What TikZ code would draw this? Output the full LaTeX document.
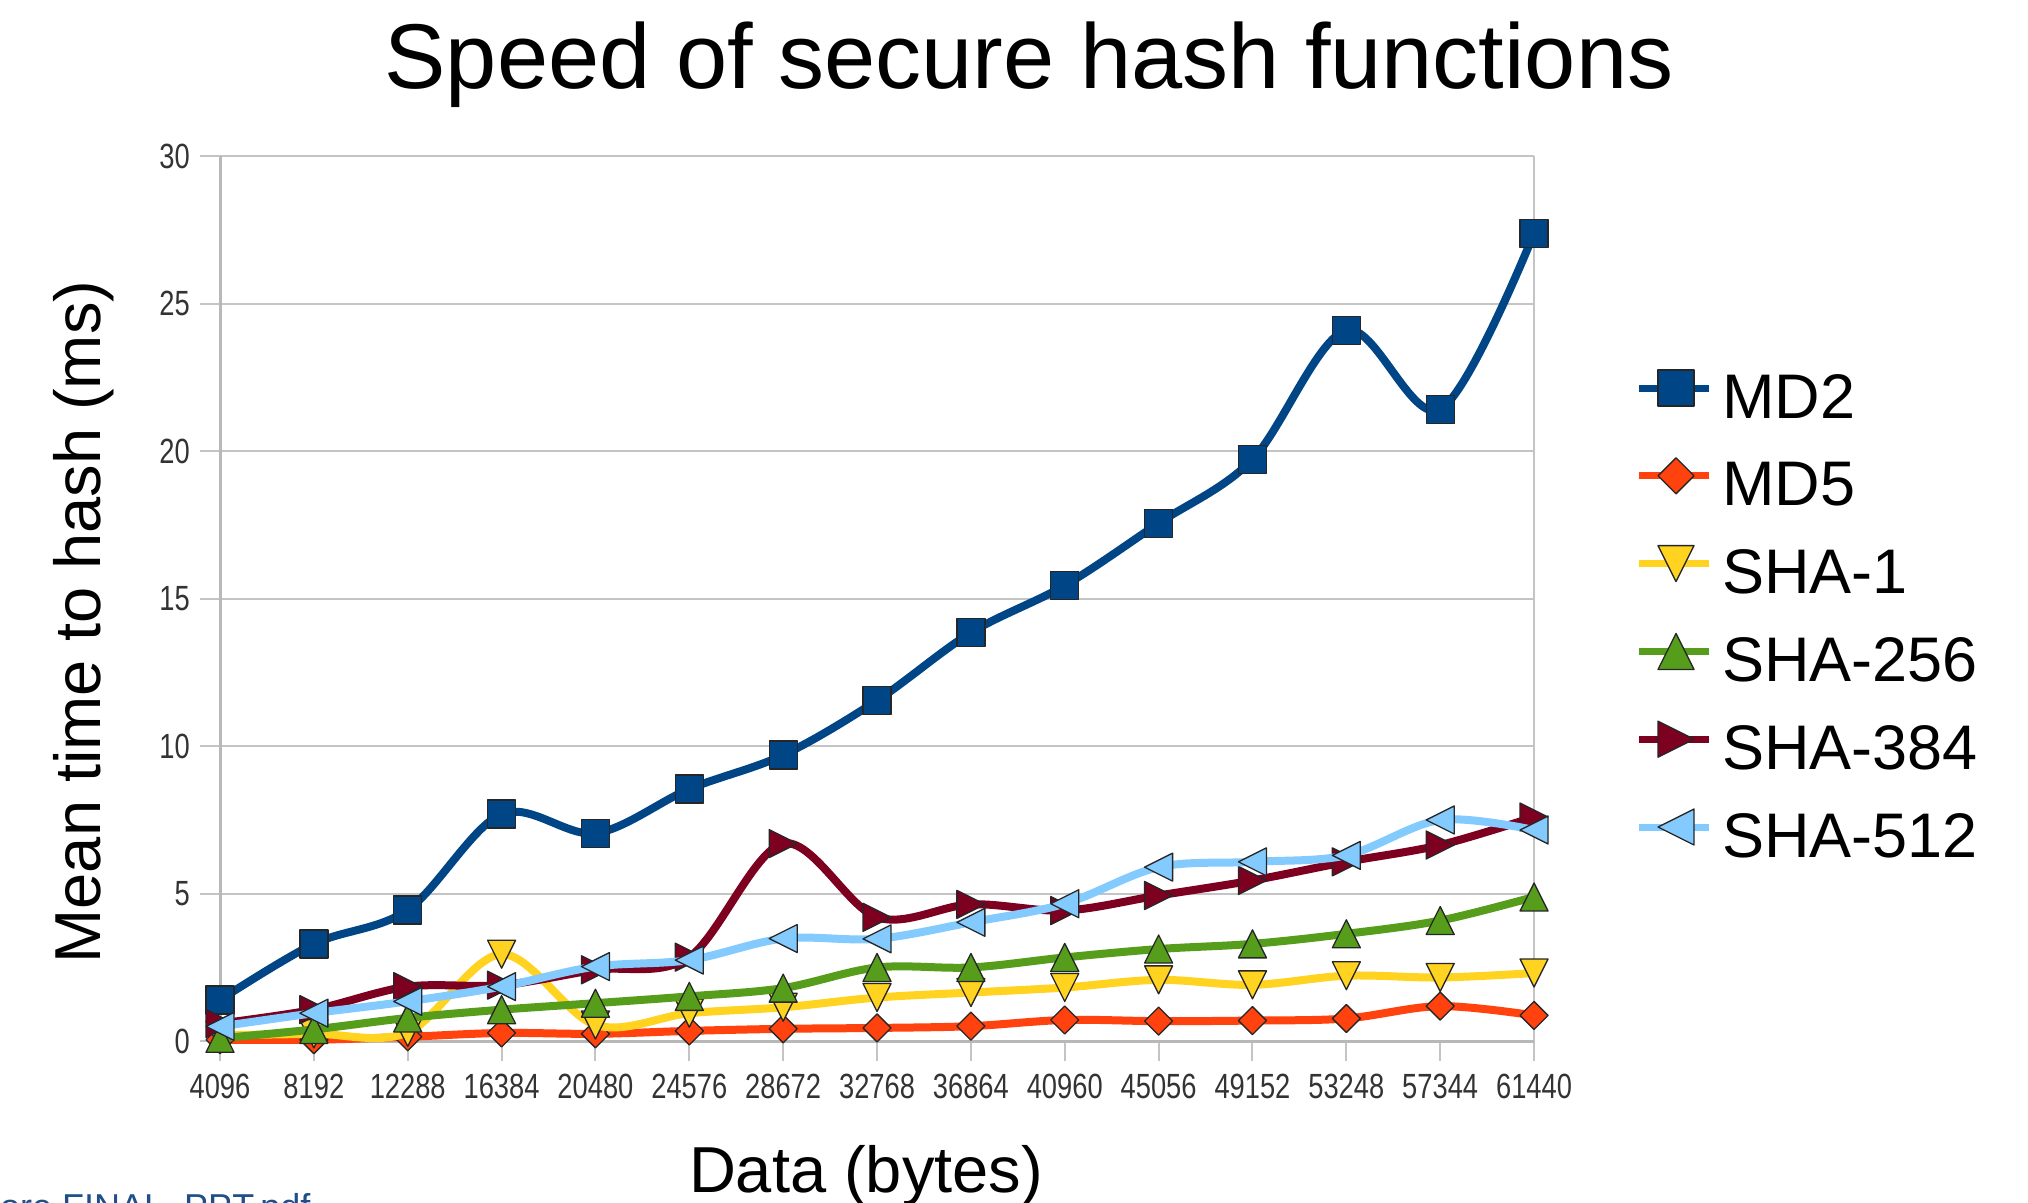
\documentclass[tikz,border=0pt]{standalone}
\usepackage{fontspec}
\setmainfont{Liberation Sans}
\usetikzlibrary{calc}

\definecolor{cMDtwo}{HTML}{004586}
\definecolor{cMDfive}{HTML}{FF420E}
\definecolor{cSHAone}{HTML}{FFD320}
\definecolor{cSHAtwo}{HTML}{579D1C}
\definecolor{cSHAthree}{HTML}{7E0021}
\definecolor{cSHAfive}{HTML}{83CAFF}
\definecolor{gridgray}{HTML}{C4C4C4}
\definecolor{axisgray}{HTML}{B8B8B8}
\definecolor{linkblue}{HTML}{1F4E8C}
\definecolor{ticktext}{HTML}{333333}

% marker shapes, half size given as argument
\tikzset{
  pics/mksq/.style={code={\path[pic actions] (-#1,-#1) rectangle (#1,#1);}},
  pics/mkdia/.style={code={\path[pic actions] (0pt,#1) -- (#1,0pt) -- (0pt,-#1) -- (-#1,0pt) -- cycle;}},
  pics/mkup/.style={code={\path[pic actions] (0pt,#1) -- (#1,-#1) -- (-#1,-#1) -- cycle;}},
  pics/mkdown/.style={code={\path[pic actions] (0pt,-#1) -- (-#1,#1) -- (#1,#1) -- cycle;}},
  pics/mkright/.style={code={\path[pic actions] (#1,0pt) -- (-#1,#1) -- (-#1,-#1) -- cycle;}},
  pics/mkleft/.style={code={\path[pic actions] (-#1,0pt) -- (#1,-#1) -- (#1,#1) -- cycle;}},
  marker/.style={draw=black!85, line width=1.3pt, line join=round},
  serline/.style={line width=8pt, line cap=round, line join=round},
  legline/.style={line width=7pt},
  gridline/.style={draw=gridgray, line width=2pt},
  axisline/.style={draw=axisgray, line width=3pt},
  ticklabel/.style={text=ticktext, inner sep=0pt, font=\fontsize{35}{40}\selectfont},
  legtext/.style={inner sep=0pt, font=\fontsize{63}{70}\selectfont},
}

% coordinate list (index,value) built from a list of values
\newcommand\buildcoords[2]{%
  \gdef#1{}%
  \foreach \v [count=\k from 0] in {#2} {\xdef#1{#1 (\k,\v)}}%
}
\newcommand\drawsmooth[2]{\draw[#2] plot[smooth, tension=0.55] coordinates {#1};}
% one data series: colour, marker pic, values
\newcommand\series[3]{%
  \buildcoords\sercoords{#3}%
  \expandafter\drawsmooth\expandafter{\sercoords}{serline,#1}%
  \foreach \v [count=\k from 0] in {#3} {\pic[marker, fill=#1] at (\k,\v) {#2};}%
}
% one legend row: index, label, colour, marker pic
\newcommand\legentry[4]{%
  \pgfmathsetmacro\ly{388+87.8*#1}%
  \draw[legline, #3] (1639,\ly) -- (1709,\ly);
  \pic[marker, fill=#3] at (1676,\ly) {#4=18pt};
  \node[legtext, anchor=base west] (leg#1) at (1722,\ly+30) {#2};
}

\begin{document}
\begin{tikzpicture}[x=1pt, y=-1pt]
  \useasboundingbox (0,0) rectangle (2028,1202);
  \fill[white] (0,0) rectangle (2028,1202);

  % titles
  \node[anchor=base, inner sep=0pt, font=\fontsize{92}{100}\selectfont] (title) at (1029,88) {Speed of secure hash functions};
  \node[rotate=90, anchor=base, inner sep=0pt, font=\fontsize{65}{70}\selectfont] (ylab) at (100,622) {Mean time to hash (ms)};
  \node[anchor=base, inner sep=0pt, font=\fontsize{65}{70}\selectfont] (xlab) at (866,1192) {Data (bytes)};
  \node[anchor=base west, inner sep=0pt, text=linkblue, font=\fontsize{36}{40}\selectfont] (src) at (0,1219) {ore FINAL\_PPT.pdf};

  % plot area in data units: one step per block size, one unit per ms
  \begin{scope}[shift={(220pt,-1041.2pt)}, x=93.86pt, y=29.5pt]
    \foreach \g in {5,10,...,30} {
      \draw[gridline] (0,\g) ++(-20pt,0pt) -- (14,\g);
    }
    \draw[gridline] (14,0) -- (14,30);
    \draw[gridline] (0,0) ++(-20pt,0pt) -- (14,0);
    \foreach \i in {0,...,14} {
      \draw[gridline] (\i,0) -- ++(0pt,-20pt);
    }
    \draw[axisline] (0,0) -- (0,30);
    \draw[axisline] (0,0) -- (14,0);

    \foreach \g in {0,5,...,30} {
      \node[ticklabel, anchor=east, xshift=-30pt] (yt\g) at (0,\g) {\scalebox{0.78}[1]{\g}};
    }
    \foreach \lab [count=\i from 0] in {4096,8192,12288,16384,20480,24576,28672,32768,36864,40960,45056,49152,53248,57344,61440} {
      \node[ticklabel, yshift=-45pt] (xt\i) at (\i,0) {\scalebox{0.78}[1]{\lab}};
    }

    % data series
    \series{cMDtwo}{mksq=14pt}{1.4,3.3,4.45,7.7,7.05,8.55,9.7,11.55,13.85,15.45,17.56,19.72,24.1,21.42,27.39}
    \series{cMDfive}{mkdia=14pt}{0.05,0.05,0.15,0.28,0.25,0.35,0.42,0.45,0.51,0.72,0.68,0.7,0.77,1.19,0.875}
    \series{cSHAone}{mkdown=14pt}{0.2,0.25,0.3,2.95,0.55,0.95,1.15,1.48,1.65,1.82,2.08,1.91,2.22,2.16,2.31}
    \series{cSHAtwo}{mkup=14pt}{0.1,0.4,0.79,1.07,1.29,1.52,1.8,2.5,2.5,2.84,3.125,3.3,3.64,4.09,4.89}
    \series{cSHAthree}{mkright=14pt}{0.6,1.07,1.85,1.9,2.42,2.85,6.7,4.2,4.64,4.43,4.94,5.45,6.08,6.65,7.6}
    \series{cSHAfive}{mkleft=14pt}{0.5,0.95,1.35,1.85,2.53,2.75,3.48,3.47,4.03,4.66,5.9,6.08,6.3,7.5,7.16}
  \end{scope}

  % legend
  \legentry{0}{MD2}{cMDtwo}{mksq}
  \legentry{1}{MD5}{cMDfive}{mkdia}
  \legentry{2}{SHA-1}{cSHAone}{mkdown}
  \legentry{3}{SHA-256}{cSHAtwo}{mkup}
  \legentry{4}{SHA-384}{cSHAthree}{mkright}
  \legentry{5}{SHA-512}{cSHAfive}{mkleft}
\end{tikzpicture}
\end{document}
